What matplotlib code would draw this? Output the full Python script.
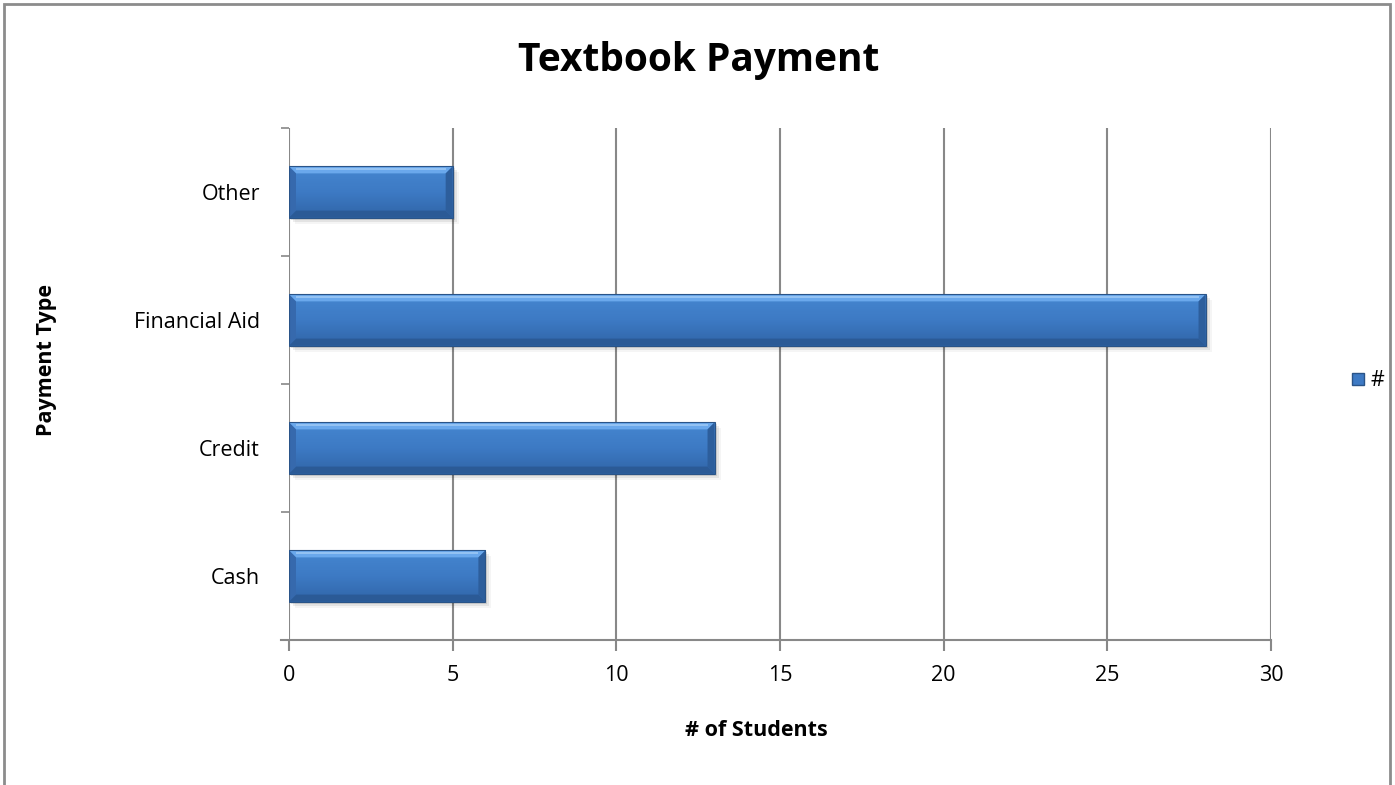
import numpy as np
import matplotlib.pyplot as plt
from matplotlib.patches import Rectangle, Polygon
from matplotlib.lines import Line2D

# payment types, bottom to top
categories = ["Cash", "Credit", "Financial Aid", "Other"]
students = [6, 13, 28, 5]

plt.rcParams['font.family'] = ['Open Sans', 'DejaVu Sans']

fig = plt.figure(figsize=(13.95, 7.85), dpi=100)
ax = fig.add_axes([289 / 1395, 1 - 640 / 785, 982 / 1395, 512 / 785])

bar_h = 0.4
ypos = np.arange(len(categories))

ax.set_xlim(0, 30)
ax.set_ylim(-0.5, len(categories) - 0.5)

# bevel widths in data units (about 7 px each way)
bx = 7 / 982 * 30
by = 7 / 512 * 4

face = plt.matplotlib.colors.LinearSegmentedColormap.from_list(
    'face', ['#3065a8', '#3d7ac4', '#4586d0'])

for y, v in zip(ypos, students):
    y0, y1 = y - bar_h / 2, y + bar_h / 2
    # soft shadow
    for k, a in enumerate([0.10, 0.07, 0.04]):
        off_x = (2 + 2 * k) / 982 * 30
        off_y = (2 + 2 * k) / 512 * 4
        ax.add_patch(Rectangle((off_x, y0 - off_y), v, bar_h, facecolor='black',
                               alpha=a, edgecolor='none', zorder=2))
    bar = ax.barh(y, v, height=bar_h, color='#3e7ac4', edgecolor='none', zorder=3)[0]
    # vertical gradient across the face
    grad = np.linspace(0, 1, 64).reshape(-1, 1)
    im = ax.imshow(grad, extent=(0, v, y0, y1), origin='lower', cmap=face,
                   aspect='auto', zorder=3.5, interpolation='bilinear')
    im.set_clip_path(bar)
    # bevel edges
    top = Polygon([(0, y1), (v, y1), (v - bx, y1 - by), (bx, y1 - by)],
                  closed=True, facecolor='#6aa8ec', edgecolor='none', zorder=4)
    bottom = Polygon([(0, y0), (v, y0), (v - bx, y0 + by), (bx, y0 + by)],
                     closed=True, facecolor='#2b5a96', edgecolor='none', zorder=4)
    left = Polygon([(0, y0), (0, y1), (bx, y1 - by), (bx, y0 + by)],
                   closed=True, facecolor='#3669ad', edgecolor='none', zorder=4)
    right = Polygon([(v, y0), (v, y1), (v - bx, y1 - by), (v - bx, y0 + by)],
                    closed=True, facecolor='#2d5e9c', edgecolor='none', zorder=4)
    for p in (top, bottom, left, right):
        ax.add_patch(p)
    ax.plot([bx, v - bx], [y1 - by * 0.35, y1 - by * 0.35], color='#9cc8f5',
            lw=1.2, zorder=4.5, solid_capstyle='butt')
    ax.add_patch(Rectangle((0, y0), v, bar_h, facecolor='none',
                           edgecolor='#2a5488', lw=0.8, zorder=5))

# axes styling
for s in ('top', 'right', 'left'):
    ax.spines[s].set_visible(False)
ax.spines['bottom'].set_color('#888888')
ax.spines['bottom'].set_linewidth(1.5)
ax.spines['bottom'].set_bounds(-0.25, 30)
ax.spines['bottom'].set_zorder(1)

ax.set_xticks(np.arange(0, 31, 5))
ax.xaxis.grid(True, color='#888888', lw=1.5, zorder=0)
ax.set_axisbelow(True)
ax.tick_params(axis='x', length=8, width=1.5, color='#888888', labelsize=15.5,
               pad=10, direction='out')

ax.set_yticks(ypos)
ax.set_yticklabels(categories, fontsize=15.5)
ax.set_yticks(np.arange(-0.5, len(categories)), minor=True)
ax.tick_params(axis='y', which='major', length=0, pad=21)
ax.tick_params(axis='y', which='minor', length=6, width=1.2, color='#888888')

fig.text(756 / 1395, 1 - 731 / 785, '# of Students', fontsize=15.5,
         fontweight='bold', ha='center', va='center')
fig.text(47 / 1395, 1 - 360 / 785, 'Payment Type', rotation=90, fontsize=15.5,
         fontweight='bold', ha='center', va='center')
fig.text(699 / 1395, 1 - 60 / 785, 'Textbook Payment', fontsize=28,
         fontweight='bold', ha='center', va='center')

# legend
handle = Line2D([], [], marker='s', linestyle='none', markersize=9,
                markerfacecolor='#3e7ac4', markeredgecolor='#2a5488')
fig.legend([handle], ['#'], loc='center left',
           bbox_to_anchor=(1334 / 1395, 1 - 381 / 785), frameon=False,
           fontsize=15.5, handletextpad=0.0, borderpad=0, handlelength=1.2)

# chart area border
fig.patches.append(Rectangle((4 / 1395, -0.01), 1386 / 1395, 1.01 - 4 / 785,
                             transform=fig.transFigure, fill=False,
                             edgecolor='#8c8c8c', lw=2))

fig.savefig('out.png', dpi=100)
